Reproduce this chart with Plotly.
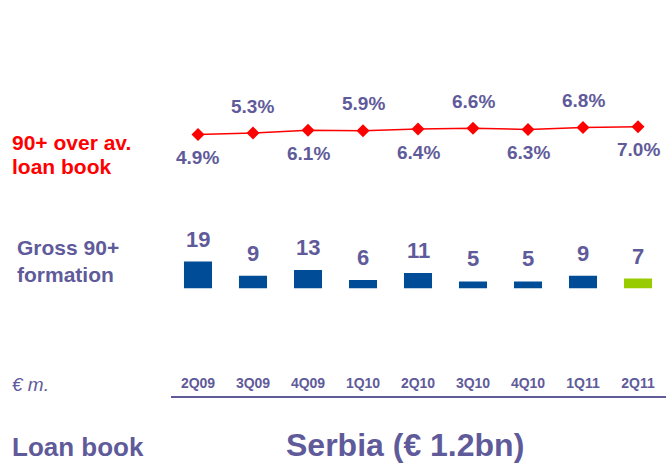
import plotly.graph_objects as go

quarters = ["2Q09", "3Q09", "4Q09", "1Q10", "2Q10", "3Q10", "4Q10", "1Q11", "2Q11"]
ratio_pct = [4.9, 5.3, 6.1, 5.9, 6.4, 6.6, 6.3, 6.8, 7.0]
formation = [19, 9, 13, 6, 11, 5, 5, 9, 7]
bar_colors = ["#004C97"] * 8 + ["#99CC00"]

PURPLE = "#5F5B9A"
RED = "#FF0000"
FONT = "Liberation Sans, Arial, sans-serif"
W, H = 669, 464

fig = go.Figure()
fig.add_trace(go.Bar(x=quarters, y=formation, marker=dict(color=bar_colors, line=dict(width=0)),
                     width=0.51, yaxis="y", hoverinfo="skip"))
fig.add_trace(go.Scatter(x=quarters, y=ratio_pct, mode="lines+markers", yaxis="y2",
                         line=dict(color=RED, width=1.5),
                         marker=dict(symbol="diamond", size=10, color=RED), hoverinfo="skip"))

ann = []
for i, (q, v) in enumerate(zip(quarters, ratio_pct)):
    above = i % 2 == 1
    ann.append(dict(x=q, y=v, xref="x", yref="y2", text=f"<b>{v:.1f}%</b>", showarrow=False,
                    yanchor="middle", yshift=27 if above else -23,
                    font=dict(family=FONT, size=19, color=PURPLE)))
for q, v in zip(quarters, formation):
    ann.append(dict(x=q, y=v, xref="x", yref="y", text=f"<b>{v}</b>", showarrow=False,
                    yanchor="bottom", yshift=8,
                    font=dict(family=FONT, size=22, color=PURPLE)))

def side_text(txt, px_x, px_y, size, color, anchor="left", italic=False):
    t = f"<b>{txt}</b>" if not italic else f"<i>{txt}</i>"
    ann.append(dict(x=px_x / W, y=1 - px_y / H, xref="paper", yref="paper", text=t,
                    showarrow=False, xanchor=anchor, yanchor="middle",
                    font=dict(family=FONT, size=size, color=color)))

side_text("90+ over av.", 10, 142, 21, RED)
side_text("loan book", 10, 166, 21, RED)
side_text("Gross 90+", 15, 248, 21, PURPLE)
side_text("formation", 15, 274, 21, PURPLE)
side_text("€ m.", 10, 384, 19, PURPLE, italic=True)
side_text("Loan book", 10, 447, 26, PURPLE)
side_text("Serbia (€ 1.2bn)", 405, 445, 32, PURPLE, anchor="center")

fig.update_layout(
    width=W, height=H, margin=dict(l=0, r=0, t=0, b=0),
    paper_bgcolor="white", plot_bgcolor="rgba(0,0,0,0)",
    showlegend=False, annotations=ann,
    xaxis=dict(type="category", categoryorder="array", categoryarray=quarters,
               range=[-0.5, 8.5], domain=[170.5 / W, 665.5 / W],
               anchor="free", position=1 - 397 / H, side="top",
               showline=True, linecolor=PURPLE, linewidth=2,
               showgrid=False, zeroline=False, ticks="",
               tickfont=dict(family=FONT, size=14, color=PURPLE, weight="bold"),
               ticklabelstandoff=2),
    yaxis=dict(range=[0, 40], domain=[1 - 288.5 / H, 1 - 231.7 / H], visible=False,
               showgrid=False, zeroline=False),
    yaxis2=dict(range=[0, 10], domain=[1 - 152.4 / H, 1 - 115.9 / H], visible=False,
                showgrid=False, zeroline=False, anchor="x"),
)
fig.write_html("out.html", config={"displayModeBar": False},
               post_script="document.body.style.margin='0';document.body.style.overflow='hidden';")
